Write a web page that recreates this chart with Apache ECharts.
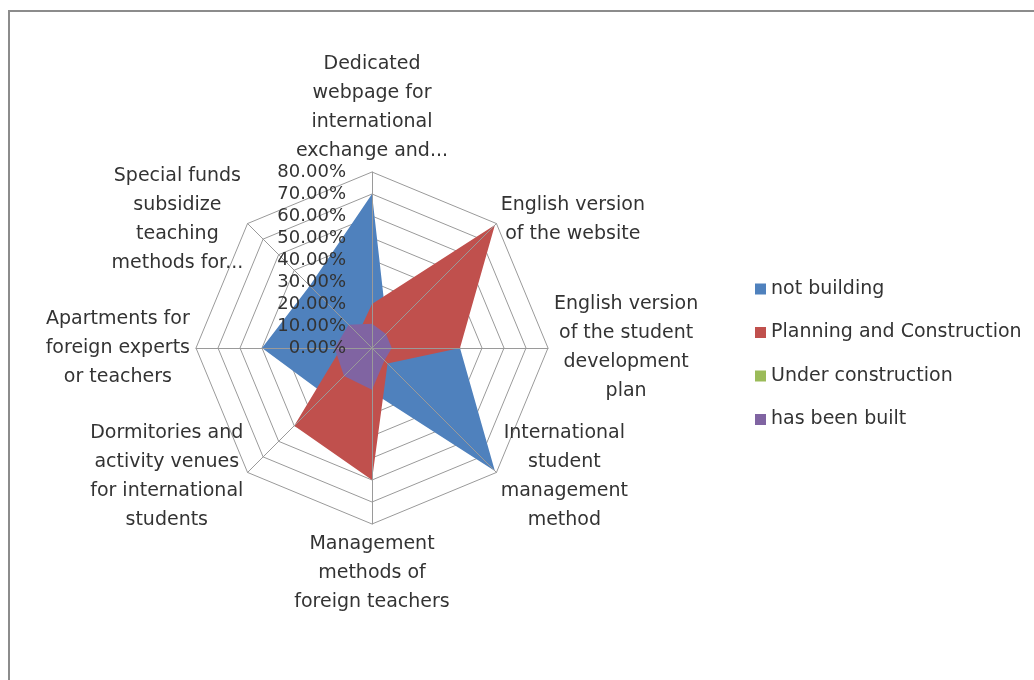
<!DOCTYPE html>
<html>
<head>
<meta charset="utf-8">
<style>
	html, body { margin: 0; padding: 0; background: #fff; }
	#radarChart { width: 1034px; height: 680px; }
</style>
<script src="https://cdn.jsdelivr.net/npm/echarts@6/dist/echarts.min.js"></script>
</head>
<body>
<div id="radarChart"></div>
<script>
// categories, clockwise from the top
var categoryNames = [
	'Dedicated\nwebpage for\ninternational\nexchange and...',
	'English version\nof the website',
	'English version\nof the student\ndevelopment\nplan',
	'International\nstudent\nmanagement\nmethod',
	'Management\nmethods of\nforeign teachers',
	'Dormitories and\nactivity venues\nfor international\nstudents',
	'Apartments for\nforeign experts\nor teachers',
	'Special funds\nsubsidize\nteaching\nmethods for...'
];
var seriesNames = ['not building', 'Planning and Construction', 'Under construction', 'has been built'];
// values in %, same order as categoryNames
var notBuilding = [70, 10, 40, 79, 20, 30, 50, 40];
var planningConstruction = [20, 79, 40, 10, 60, 50, 14, 9];
var underConstruction = [5, 4, 3, 3, 6, 6, 5, 4];
var hasBeenBuilt = [11, 9, 9, 8, 19, 18, 17, 15];
var axisMax = 80;

function showRadarEchart(id){
	var radarChart = echarts.init(document.getElementById(id));
	// echarts lays the axes out counter-clockwise, excel clockwise
	var order = [0, 7, 6, 5, 4, 3, 2, 1];
	var reorder = function(arr){ return order.map(function(i){ return arr[i]; }); };
	var makeIndicators = function(withLabel){
		return order.map(function(i, k){
			var ind = { name : categoryNames[i], max : axisMax, min : 0 };
			if (withLabel && k === 0) {
				ind.axisLabel = { show : true };
			}
			return ind;
		});
	};
	var gridLine = { color : '#9a9a9a', width : 1 };
	var allData = [notBuilding, planningConstruction, underConstruction, hasBeenBuilt];
	var radarOption = {
		color : ['#4f81bd', '#c0504d', '#9bbb59', '#8064a2'],
		textStyle : { fontFamily : 'DejaVu Sans' },
		graphic : [{
			type : 'rect',
			shape : { x : 9, y : 11, width : 1100, height : 1000 },
			style : { fill : 'none', stroke : '#8c8c8c', lineWidth : 2 },
			silent : true
		}],
		legend : {
			data : seriesNames,
			orient : 'vertical',
			left : 750,
			top : 273,
			itemWidth : 11,
			itemHeight : 11,
			itemGap : 21.5,
			icon : 'rect',
			textStyle : {
				color : '#333',
				fontSize : 19,
				lineHeight : 22,
				fontFamily : 'DejaVu Sans'
			}
		},
		radar : [{
			// rings and category names, under the areas
			center : [372, 348],
			radius : 176,
			startAngle : 90,
			splitNumber : 8,
			shape : 'polygon',
			nameGap : 6,
			z : 1,
			axisName : {
				formatter : function(name){
					return name.split('\n').map(function(l){ return '{c|' + l + '}'; }).join('\n');
				},
				rich : {
					c : {
						align : 'center',
						color : '#333',
						fontSize : 19,
						lineHeight : 29,
						fontFamily : 'DejaVu Sans'
					}
				}
			},
			axisLine : { show : false },
			splitLine : { show : true, lineStyle : gridLine },
			splitArea : { show : false },
			axisTick : { show : false },
			axisLabel : { show : false },
			indicator : makeIndicators(false)
		}, {
			// spokes and value labels, over the areas
			center : [372, 348],
			radius : 176,
			startAngle : 90,
			splitNumber : 8,
			shape : 'polygon',
			z : 5,
			axisName : { show : false },
			axisLine : { show : true, lineStyle : gridLine },
			splitLine : { show : false },
			splitArea : { show : false },
			axisTick : { show : false },
			axisLabel : {
				show : false,
				margin : 26,
				color : '#333',
				fontSize : 18,
				fontFamily : 'DejaVu Sans',
				formatter : function(v){ return v.toFixed(2) + '%'; }
			},
			indicator : makeIndicators(true)
		}],
		series : [{
			type : 'radar',
			radarIndex : 0,
			symbol : 'none',
			z : 2,
			data : allData.map(function(arr, i){
				return {
					name : seriesNames[i],
					value : reorder(arr),
					lineStyle : { width : 0 },
					areaStyle : { opacity : 1 }
				};
			})
		}]
	};
	radarChart.setOption(radarOption);
}
showRadarEchart('radarChart');
</script>
</body>
</html>
